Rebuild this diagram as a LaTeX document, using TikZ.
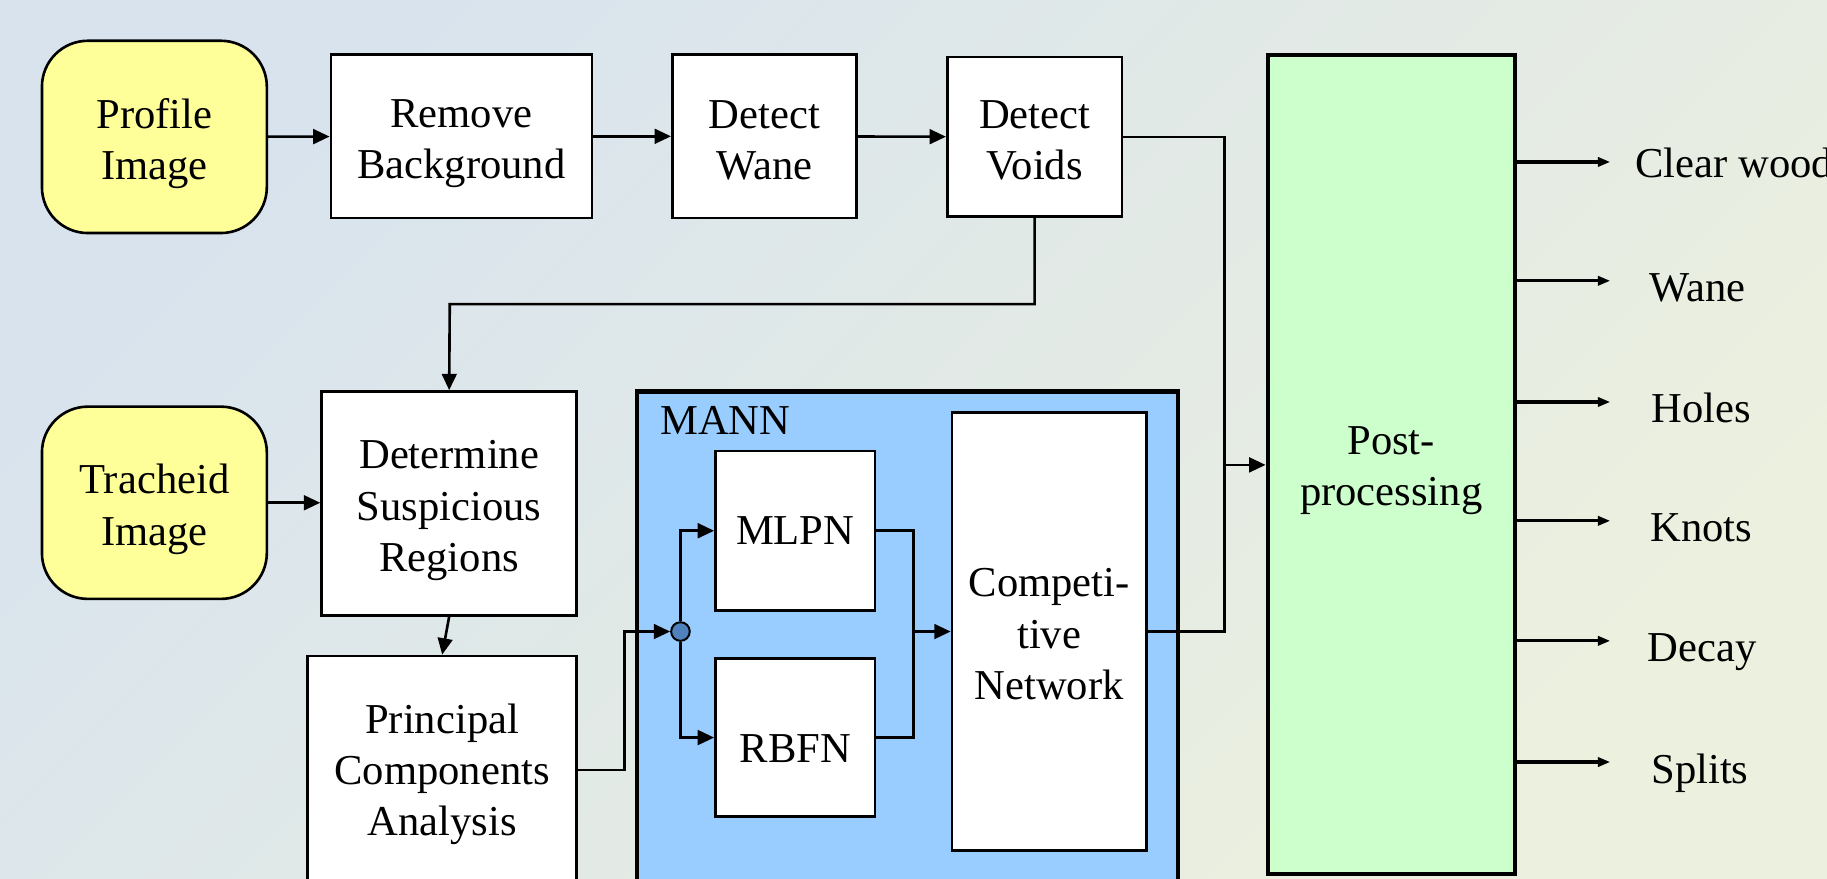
\documentclass[tikz,border=0pt]{standalone}
\usepackage{fontspec}
\setmainfont{Liberation Serif}
\usetikzlibrary{arrows.meta}
\definecolor{bgA}{RGB}{216,227,238}
\definecolor{bgB}{RGB}{236,240,222}
\definecolor{srcyellow}{RGB}{255,255,153}
\definecolor{mannblue}{RGB}{153,204,255}
\definecolor{postgreen}{RGB}{204,255,204}
\definecolor{jblue}{RGB}{79,129,189}
\newcommand{\lowr}[1]{\rule{0pt}{#1}}
\begin{document}
\begin{tikzpicture}[x=0.0125cm,y=-0.0125cm,
  every node/.style={font=\fontsize{13}{15.6}\selectfont},
  box/.style={draw=black, line width=0.8pt, fill=white, align=center, inner sep=0pt},
  srcbox/.style={box, fill=srcyellow, rounded corners=14pt},
  bigbox/.style={box, line width=1.3pt},
  wire/.style={line width=0.8pt},
  conn/.style={line width=0.8pt, -{Triangle[length=5pt,width=4.5pt]}},
  outconn/.style={line width=1pt, -{Triangle[length=3.8pt,width=2.8pt]}},
  outlabel/.style={anchor=base}
]
\clip (0,0) rectangle (1568,754);
\shade[top color=bgA, bottom color=bgB, shading angle=45] (0,0) rectangle (1568,754);

% top row
\node[srcbox, minimum width=193*0.0125cm, minimum height=165*0.0125cm] (prof) at (132.5,117.5) {\lowr{13pt}Profile\\Image};
\node[box, minimum width=224*0.0125cm, minimum height=140*0.0125cm] (remb) at (396,117) {\lowr{13pt}Remove\\Background};
\node[box, minimum width=158*0.0125cm, minimum height=140*0.0125cm] (wane) at (656,117) {\lowr{10.9pt}Detect\\Wane};
\node[box, minimum width=150*0.0125cm, minimum height=137*0.0125cm] (voids) at (888,117.5) {\lowr{10.6pt}Detect\\Voids};

% left column
\node[srcbox, minimum width=193*0.0125cm, minimum height=165*0.0125cm] (trach) at (132.5,431.5) {\lowr{13pt}Tracheid\\Image};
\node[box, minimum width=219*0.0125cm, minimum height=192*0.0125cm] (dsr) at (385.5,432) {\lowr{13pt}Determine\\Suspicious\\Regions};
\node[box, minimum width=231*0.0125cm, minimum height=200*0.0125cm] (pca) at (379.5,663) {\lowr{10.2pt}Principal\\Components\\Analysis};

% MANN
\node[bigbox, fill=mannblue, minimum width=464*0.0125cm, minimum height=470*0.0125cm] (mann) at (779,571) {};
\node[anchor=west, inner sep=0pt] (mannlbl) at (566,361) {MANN};
\node[box, minimum width=137*0.0125cm, minimum height=137*0.0125cm] (mlpn) at (682.5,455.5) {MLPN};
\node[box, minimum width=137*0.0125cm, minimum height=136*0.0125cm] (rbfn) at (682.5,633) {\lowr{15.5pt}RBFN};
\node[box, minimum width=167*0.0125cm, minimum height=376*0.0125cm] (comp) at (900.5,542) {\lowr{10.2pt}Competi-\\tive\\Network};
\node[circle, draw=black, line width=0.6pt, fill=jblue, inner sep=0pt, minimum size=16*0.0125cm] (j) at (584,542) {};

% post-processing
\node[bigbox, fill=postgreen, minimum width=212*0.0125cm, minimum height=703*0.0125cm] (post) at (1194,398.5) {\lowr{12.3pt}Post-\\processing};

% connectors
\draw[conn] (prof) -- (remb);
\draw[conn] (remb) -- (wane);
\draw[conn] (wane) -- (voids);

\coordinate (bus) at (1051,399);
\draw[wire] (voids.east) -| (bus);
\draw[wire] (comp.east) -| (bus);
\draw[conn] (bus) -- (post.west |- bus);

\coordinate (turn) at (386,261);
\draw[conn] (voids.south) |- (turn) -- (dsr.north);
\draw[conn] (trach.east) -- (dsr.west |- trach.east);
\draw[conn] (dsr.south) -- (pca.north);

\coordinate (pc) at (536,661);
\draw[conn] (pca.east |- pc) -- (pc) |- (j);
\draw[conn] (j) |- (mlpn.west);
\draw[conn] (j) |- (rbfn.west);

\coordinate (m) at (784,542);
\draw[wire] (mlpn.east) -| (m);
\draw[wire] (rbfn.east) -| (m);
\draw[conn] (m) -- (comp.west);

% outputs
\foreach \yy/\nm in {139/o1,241/o2,345/o3,447/o4,550/o5,654/o6}{
  \coordinate (\nm) at (1382,\yy);
  \draw[outconn] (post.east |- \nm) -- (\nm);
}
\node[anchor=base west, inner sep=0pt] (l1) at (1403,152) {Clear wood};
\node[outlabel, inner sep=0pt] (l2) at (1457,259) {Wane};
\node[outlabel, inner sep=0pt] (l3) at (1460,363) {Holes};
\node[outlabel, inner sep=0pt] (l4) at (1460,465) {Knots};
\node[outlabel, inner sep=0pt] (l5) at (1461,568) {Decay};
\node[outlabel, inner sep=0pt] (l6) at (1459,672) {Splits};
\end{tikzpicture}
\end{document}
